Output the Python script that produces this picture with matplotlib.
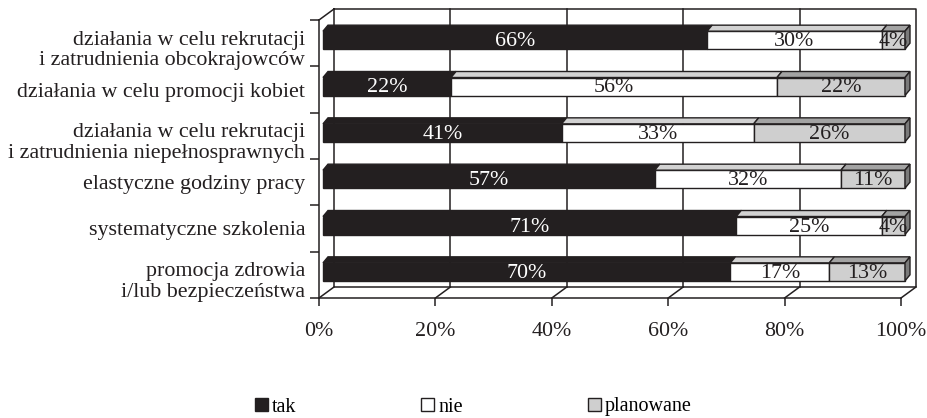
import numpy as np
import matplotlib.pyplot as plt
import matplotlib.transforms as mtransforms
from matplotlib.patches import Polygon, Patch

plt.rcParams['font.family'] = ['Liberation Serif', 'DejaVu Serif']

# --- data -------------------------------------------------------------------
categories = [
    'działania w celu rekrutacji\ni zatrudnienia obcokrajowców',
    'działania w celu promocji kobiet',
    'działania w celu rekrutacji\ni zatrudnienia niepełnosprawnych',
    'elastyczne godziny pracy',
    'systematyczne szkolenia',
    'promocja zdrowia\ni/lub bezpieczeństwa',
]
tak = [66, 22, 41, 57, 71, 70]
nie = [30, 56, 33, 32, 25, 17]
planowane = [4, 22, 26, 11, 4, 13]
series_names = ['tak', 'nie', 'planowane']
x_ticks = [0, 20, 40, 60, 80, 100]

# --- styling ----------------------------------------------------------------
INK = '#231f20'
front_cols = [INK, 'white', '#cfcfcf']
top_cols = [INK, '#d2d2d2', '#a3a3a3']
end_col = '#7a7a7a'
text_cols = ['white', INK, INK]
FS = 15.8

W, H, DPI = 928, 418, 100
fig = plt.figure(figsize=(W / DPI, H / DPI), dpi=DPI)

# front plane of the 3-D box (pixel coords)
L, R, T, B = 319, 901, 20, 298
ax = fig.add_axes([L / W, 1 - B / H, (R - L) / W, (B - T) / H])
n = len(categories)
ax.set_xlim(0, 100)
ax.set_ylim(n, 0)
sx = 100 / (R - L)
sy = n / (B - T)


def off(dx, dy):
    """pixel shift (right, up) -> data shift"""
    return dx * sx, -dy * sy


wx, wy = off(15, 11)      # wall depth
fx, fy = off(4, 3)        # bar front face inset
dx, dy = off(5, 6)        # bar depth
hh = 9 * sy               # half bar height

line_kw = dict(color=INK, lw=1.1, clip_on=False, zorder=1)

# back wall with gridlines
ax.plot([wx, 100 + wx, 100 + wx, wx, wx], [wy, wy, n + wy, n + wy, wy], **line_kw)
for t in x_ticks[1:-1]:
    ax.plot([t + wx, t + wx], [wy, n + wy], **line_kw)
# side wall / floor edges
ax.plot([0, wx], [0, wy], **line_kw)
for t in x_ticks:
    ax.plot([t, t + wx], [n, n + wy], **line_kw)

# stacked 3-D bars
series = [tak, nie, planowane]
centers = np.arange(n) + 0.5
left = np.zeros(n)
for k, vals in enumerate(series):
    vals = np.array(vals, dtype=float)
    ax.barh(centers + fy, vals, left=left + fx, height=2 * hh,
            color=front_cols[k], edgecolor=INK, lw=1.0, clip_on=False, zorder=3)
    for i in range(n):
        x0 = left[i] + fx
        x1 = x0 + vals[i]
        ytop = centers[i] - hh + fy
        ybot = centers[i] + hh + fy
        ax.add_patch(Polygon([(x0, ytop), (x1, ytop), (x1 + dx, ytop + dy), (x0 + dx, ytop + dy)],
                             closed=True, fc=top_cols[k], ec=INK, lw=1.0, clip_on=False, zorder=3))
        if k == len(series) - 1:
            ax.add_patch(Polygon([(x1, ytop), (x1 + dx, ytop + dy), (x1 + dx, ybot + dy), (x1, ybot)],
                                 closed=True, fc=end_col, ec=INK, lw=1.0, clip_on=False, zorder=3))
        ax.text(x0 + vals[i] / 2, ybot - 3 * sy, f'{int(vals[i])}%', ha='center', va='baseline',
                color=text_cols[k], fontsize=FS, zorder=4)
    left += vals

# axes
for s in ['top', 'right']:
    ax.spines[s].set_visible(False)
for s in ['left', 'bottom']:
    ax.spines[s].set_color(INK)
    ax.spines[s].set_linewidth(1.1)
ax.set_xticks(x_ticks, [f'{t}%' for t in x_ticks])
ax.tick_params(axis='x', length=6, width=1.1, color=INK, pad=11, labelsize=FS, labelcolor=INK)
ax.set_yticks(centers, categories)
ax.set_yticks(np.arange(n + 1), minor=True)
ax.tick_params(axis='y', which='major', length=0, pad=10, labelsize=FS, labelcolor=INK)
ax.tick_params(axis='y', which='minor', length=6.5, width=1.1, color=INK)
shift = mtransforms.ScaledTranslation(0, -4 / DPI, fig.dpi_scale_trans)
for lab in ax.get_yticklabels():
    lab.set_linespacing(1.12)
    if '\n' in lab.get_text():
        lab.set_transform(lab.get_transform() + shift)

handles = [Patch(facecolor=c, edgecolor=INK, lw=1.0) for c in front_cols]
fig.legend(handles, series_names, loc='center left', bbox_to_anchor=(255 / W, 1 - 407 / H),
           ncol=3, frameon=False, handlelength=0.65, handleheight=0.65, handletextpad=0.2,
           columnspacing=6.2, borderpad=0, borderaxespad=0, fontsize=14.5)

fig.savefig('out.png', dpi=DPI)
